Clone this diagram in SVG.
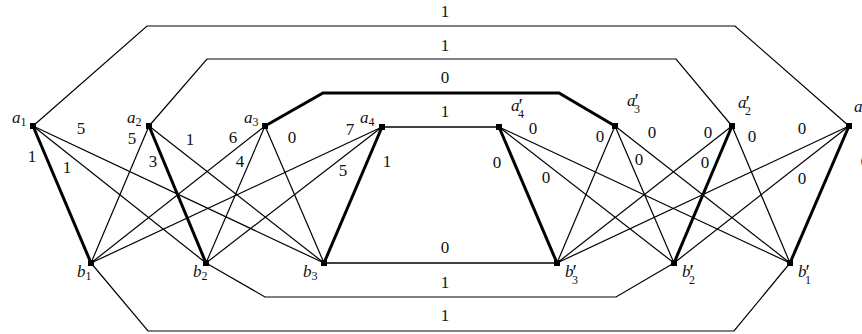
<svg xmlns="http://www.w3.org/2000/svg" width="862" height="334" viewBox="0 0 862 334">
<style>
.e{stroke:#000;stroke-width:1.2;fill:none}
.t{stroke:#000;stroke-width:3;fill:none}
.m{stroke:#000;stroke-width:1.6;fill:none}
text{font-family:"Liberation Serif","Times New Roman",serif;font-size:17px;fill:#111}
.w{text-anchor:middle}
.n{font-style:italic}
.s{font-size:12px;font-style:normal}
.p{font-size:20px;font-style:normal}
</style>
<rect width="862" height="334" fill="#fff"/>
<g id="connectors">
<polyline class="e" points="33,126 147,26 735,26 849,126"/>
<polyline class="e" points="149,126 207,59 676,59 732,126"/>
<polyline class="t" points="265,126 323,93 559,93 615,126"/>
<line class="m" x1="382" y1="127" x2="499" y2="127"/>
<line class="m" x1="324" y1="263" x2="557" y2="263"/>
<polyline class="e" points="206,263 265,297 616,297 674,263"/>
<polyline class="e" points="91,263 148,331 734,331 790,263"/>
<line class="t" x1="33" y1="126" x2="91" y2="263"/>
<line class="e" x1="33" y1="126" x2="206" y2="263"/>
<line class="e" x1="33" y1="126" x2="324" y2="263"/>
<line class="e" x1="149" y1="126" x2="91" y2="263"/>
<line class="t" x1="149" y1="126" x2="206" y2="263"/>
<line class="e" x1="149" y1="126" x2="324" y2="263"/>
<line class="e" x1="265" y1="126" x2="91" y2="263"/>
<line class="e" x1="265" y1="126" x2="206" y2="263"/>
<line class="e" x1="265" y1="126" x2="324" y2="263"/>
<line class="e" x1="382" y1="127" x2="91" y2="263"/>
<line class="e" x1="382" y1="127" x2="206" y2="263"/>
<line class="t" x1="382" y1="127" x2="324" y2="263"/>
<line class="t" x1="849" y1="126" x2="790" y2="263"/>
<line class="e" x1="849" y1="126" x2="674" y2="263"/>
<line class="e" x1="849" y1="126" x2="557" y2="263"/>
<line class="e" x1="732" y1="126" x2="790" y2="263"/>
<line class="t" x1="732" y1="126" x2="674" y2="263"/>
<line class="e" x1="732" y1="126" x2="557" y2="263"/>
<line class="e" x1="615" y1="126" x2="790" y2="263"/>
<line class="e" x1="615" y1="126" x2="674" y2="263"/>
<line class="e" x1="615" y1="126" x2="557" y2="263"/>
<line class="e" x1="499" y1="127" x2="790" y2="263"/>
<line class="e" x1="499" y1="127" x2="674" y2="263"/>
<line class="t" x1="499" y1="127" x2="557" y2="263"/>
</g>
<g id="edge-labels">
<text class="w" x="445" y="17">1</text>
<text class="w" x="445" y="51">1</text>
<text class="w" x="445" y="83">0</text>
<text class="w" x="445" y="117">1</text>
<text class="w" x="445" y="253">0</text>
<text class="w" x="445" y="288">1</text>
<text class="w" x="445" y="321">1</text>
<text class="w" x="81" y="134">5</text>
<text class="w" x="32" y="162">1</text>
<text class="w" x="67" y="173">1</text>
<text class="w" x="132" y="144">5</text>
<text class="w" x="153" y="167">3</text>
<text class="w" x="190" y="145">1</text>
<text class="w" x="233" y="143">6</text>
<text class="w" x="240" y="167">4</text>
<text class="w" x="292" y="143">0</text>
<text class="w" x="350" y="135">7</text>
<text class="w" x="343" y="176">5</text>
<text class="w" x="387" y="167">1</text>
<text class="w" x="533" y="134">0</text>
<text class="w" x="497" y="168">0</text>
<text class="w" x="546" y="183">0</text>
<text class="w" x="600" y="142">0</text>
<text class="w" x="652" y="138">0</text>
<text class="w" x="639" y="165">0</text>
<text class="w" x="708" y="138">0</text>
<text class="w" x="752" y="142">0</text>
<text class="w" x="705" y="168">0</text>
<text class="w" x="802" y="134">0</text>
<text class="w" x="802" y="184">0</text>
<text class="w" x="865" y="167">0</text>
</g>
<g id="a1"><rect x="30" y="123" width="6" height="6"/><text class="n" x="12" y="123">a<tspan class="s" dy="3">1</tspan></text></g>
<g id="a2"><rect x="146" y="123" width="6" height="6"/><text class="n" x="127" y="123">a<tspan class="s" dy="3">2</tspan></text></g>
<g id="a3"><rect x="262" y="123" width="6" height="6"/><text class="n" x="244" y="123">a<tspan class="s" dy="3">3</tspan></text></g>
<g id="a4"><rect x="379" y="124" width="6" height="6"/><text class="n" x="360" y="123">a<tspan class="s" dy="3">4</tspan></text></g>
<g id="a4p"><rect x="496" y="124" width="6" height="6"/><text class="n" x="511" y="111">a<tspan class="p" dx="-1" dy="2">′</tspan><tspan class="s" dx="-5" dy="5">4</tspan></text></g>
<g id="a3p"><rect x="612" y="123" width="6" height="6"/><text class="n" x="627" y="106">a<tspan class="p" dx="-1" dy="2">′</tspan><tspan class="s" dx="-5" dy="5">3</tspan></text></g>
<g id="a2p"><rect x="729" y="123" width="6" height="6"/><text class="n" x="738" y="108">a<tspan class="p" dx="-1" dy="2">′</tspan><tspan class="s" dx="-5" dy="5">2</tspan></text></g>
<g id="a1p"><rect x="846" y="123" width="6" height="6"/><text class="n" x="854" y="112">a<tspan class="p" dx="-1" dy="2">′</tspan><tspan class="s" dx="-5" dy="5">1</tspan></text></g>
<g id="b1"><rect x="88" y="260" width="6" height="6"/><text class="n" x="77" y="277">b<tspan class="s" dy="3">1</tspan></text></g>
<g id="b2"><rect x="203" y="260" width="6" height="6"/><text class="n" x="193" y="277">b<tspan class="s" dy="3">2</tspan></text></g>
<g id="b3"><rect x="321" y="260" width="6" height="6"/><text class="n" x="303" y="277">b<tspan class="s" dy="3">3</tspan></text></g>
<g id="b3p"><rect x="554" y="260" width="6" height="6"/><text class="n" x="565" y="277">b<tspan class="p" dx="-1" dy="2">′</tspan><tspan class="s" dx="-5" dy="5">3</tspan></text></g>
<g id="b2p"><rect x="671" y="260" width="6" height="6"/><text class="n" x="682" y="277">b<tspan class="p" dx="-1" dy="2">′</tspan><tspan class="s" dx="-5" dy="5">2</tspan></text></g>
<g id="b1p"><rect x="787" y="260" width="6" height="6"/><text class="n" x="798" y="277">b<tspan class="p" dx="-1" dy="2">′</tspan><tspan class="s" dx="-5" dy="5">1</tspan></text></g>
</svg>
